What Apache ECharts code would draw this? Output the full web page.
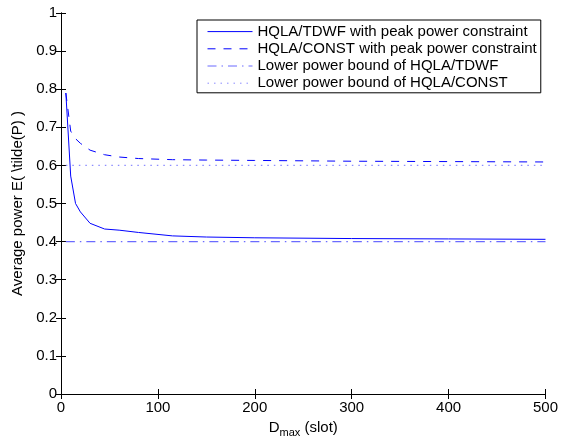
<!DOCTYPE html>
<html>
<head>
<meta charset="utf-8">
<script src="https://cdn.jsdelivr.net/npm/echarts@6/dist/echarts.min.js"></script>
<style>
  html, body { margin: 0; padding: 0; background: #fff; }
  #my_chart { width: 561px; height: 445px; }
</style>
</head>
<body>
<div id="my_chart"></div>
<script>
// D_max (slot)
var dMax = [5, 10, 15, 20, 30, 45, 60, 80, 115, 150, 200, 300, 400, 500];
// HQLA/TDWF with peak power constraint
var tdwfPeak = [0.79, 0.572, 0.50, 0.478, 0.448, 0.433, 0.430, 0.424, 0.415, 0.412, 0.410, 0.408, 0.407, 0.406];
// HQLA/CONST with peak power constraint
var constPeak = [0.79, 0.69, 0.67, 0.658, 0.64, 0.628, 0.622, 0.618, 0.615, 0.614, 0.613, 0.611, 0.610, 0.609];
// lower bounds
var boundX = [5, 500];
var tdwfBound = [0.4, 0.4];
var constBound = [0.6, 0.6];
var yTicks = [0, 0.1, 0.2, 0.3, 0.4, 0.5, 0.6, 0.7, 0.8, 0.9, 1];

function pairs(xs, ys) {
  return xs.map(function (x, i) { return [x, ys[i]]; });
}

var font = "Liberation Sans";
var chart = echarts.init(document.getElementById("my_chart"));

var option = {
  animation: false,
  grid: { left: 61, right: 15, top: 13, bottom: 51 },
  legend: {
    orient: "vertical",
    left: 197,
    top: 20,
    backgroundColor: "#fff",
    borderColor: "#000",
    borderWidth: 1,
    borderRadius: 0,
    padding: [3, 4, 1, 10],
    itemWidth: 45,
    itemHeight: 10,
    itemGap: 0,
    itemStyle: { opacity: 0 },
    lineStyle: { width: 1 },
    textStyle: { fontFamily: font, fontSize: 15, color: "#000", lineHeight: 17.2 },
    data: [
      "HQLA/TDWF with peak power constraint",
      "HQLA/CONST with peak power constraint",
      "Lower power bound of HQLA/TDWF",
      "Lower power bound of HQLA/CONST",
    ],
  },
  xAxis: [
    {
      type: "value",
      min: 0,
      max: 500,
      interval: 100,
      name: "{a|D}{b|max}{a| (slot)}",
      nameLocation: "middle",
      nameGap: 24,
      nameTextStyle: {
        rich: {
          a: { fontFamily: font, fontSize: 15, color: "#000" },
          b: { fontFamily: font, fontSize: 11, color: "#000", padding: [9, 0, 0, 0] },
        },
      },
      axisLine: { lineStyle: { color: "#000", width: 1 } },
      axisTick: { inside: true, length: 5, lineStyle: { color: "#000" } },
      axisLabel: { fontFamily: font, fontSize: 15, color: "#000", margin: 6 },
      splitLine: { show: false },
    },
    {
      type: "value",
      position: "top",
      min: 0,
      max: 500,
      interval: 100,
      axisLine: { show: true, lineStyle: { color: "#000", width: 1 } },
      axisTick: { inside: true, length: 5, lineStyle: { color: "#000" } },
      axisLabel: { show: false },
      splitLine: { show: false },
    },
  ],
  yAxis: [
    {
      type: "value",
      min: 0,
      max: 1,
      interval: 0.1,
      name: "Average power E( \\tilde(P) )",
      nameLocation: "middle",
      nameGap: 26,
      nameTextStyle: { fontFamily: font, fontSize: 15, color: "#000" },
      axisLine: { show: true, lineStyle: { color: "#000", width: 1 } },
      axisTick: { inside: true, length: 5, lineStyle: { color: "#000" } },
      axisLabel: {
        fontFamily: font,
        fontSize: 15,
        color: "#000",
        margin: 4,
        formatter: function (v) {
          var t = yTicks.find(function (k) { return Math.abs(k - v) < 1e-6; });
          return String(t === undefined ? v : t);
        },
      },
      splitLine: { show: false },
    },
    {
      type: "value",
      position: "right",
      min: 0,
      max: 1,
      interval: 0.1,
      axisLine: { show: true, lineStyle: { color: "#000", width: 1 } },
      axisTick: { inside: true, length: 5, lineStyle: { color: "#000" } },
      axisLabel: { show: false },
      splitLine: { show: false },
    },
  ],
  series: [
    {
      name: "HQLA/TDWF with peak power constraint",
      type: "line",
      symbol: "none",
      data: pairs(dMax, tdwfPeak),
      lineStyle: { color: "#0000ff", width: 1 },
      itemStyle: { color: "#0000ff" },
    },
    {
      name: "HQLA/CONST with peak power constraint",
      type: "line",
      symbol: "none",
      data: pairs(dMax, constPeak),
      lineStyle: { color: "#0000ff", width: 1, type: [8, 8] },
      itemStyle: { color: "#0000ff" },
    },
    {
      name: "Lower power bound of HQLA/TDWF",
      type: "line",
      symbol: "none",
      data: pairs(boundX, tdwfBound),
      lineStyle: { color: "#6b6bff", width: 1.3, type: [9, 5, 1.5, 5] },
      itemStyle: { color: "#6b6bff" },
    },
    {
      name: "Lower power bound of HQLA/CONST",
      type: "line",
      symbol: "none",
      data: pairs(boundX, constBound),
      lineStyle: { color: "#8c8cff", width: 1.2, type: [1.5, 5] },
      itemStyle: { color: "#8c8cff" },
    },
  ],
};
chart.setOption(option);
</script>
</body>
</html>
